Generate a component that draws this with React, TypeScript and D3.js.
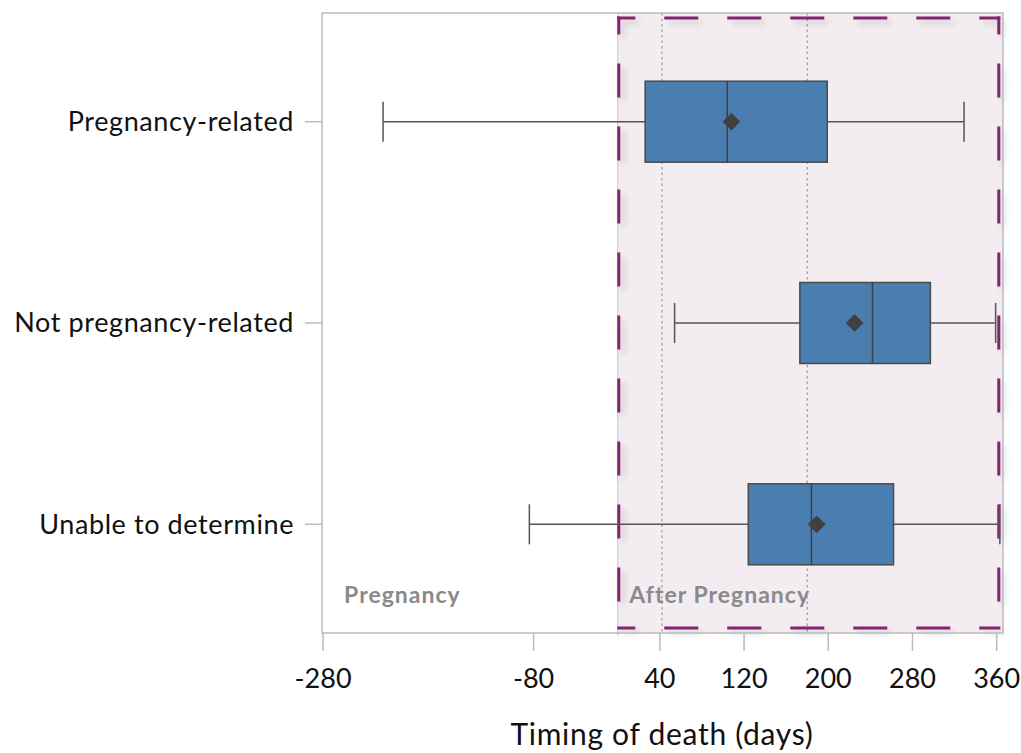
import React from "react";
import * as d3 from "d3";

const categories = ["Pregnancy-related", "Not pregnancy-related", "Unable to determine"];
const whiskerLow = [-223, 54, -84];
const q1 = [26, 173, 124];
const median = [104, 242, 184];
const mean = [108, 225, 189];
const q3 = [199, 297, 262];
const whiskerHigh = [329, 359, 363];
const xTicks = [-280, -80, 40, 120, 200, 280, 360];
const refLines = [42, 180];
const regionLabels = [
  { text: "Pregnancy", value: -260 },
  { text: "After Pregnancy", value: 11 },
];

const W = 1021;
const H = 753;
const plot = { left: 322, right: 1003, top: 13, bottom: 633 };
const FONT = "Lato, 'Open Sans', sans-serif";

export default function App() {
  const x = d3.scaleLinear().domain([-281, 366]).range([plot.left, plot.right]);
  const y = d3
    .scalePoint<string>()
    .domain(categories)
    .range([plot.top, plot.bottom])
    .padding(0.54);

  const boxH = 81;
  const capH = 40;
  const shadeX0 = x(0);

  const d = { x0: shadeX0 + 1, x1: x(362), y0: 18, y1: 628 };
  const sides = [
    [d.x0, d.y0, d.x1, d.y0],
    [d.x0, d.y0, d.x0, d.y1],
    [d.x1, d.y0, d.x1, d.y1],
    [d.x0, d.y1, d.x1, d.y1],
  ];

  return (
    <svg
      width={W}
      height={H}
      style={{ position: "absolute", left: 0, top: 0, display: "block" }}
    >
      <defs>
        <filter id="shadow" x="-20%" y="-20%" width="140%" height="140%">
          <feGaussianBlur in="SourceAlpha" stdDeviation="3" />
          <feOffset dx="4" dy="4" result="b" />
          <feComponentTransfer>
            <feFuncA type="linear" slope="0.18" />
          </feComponentTransfer>
          <feMerge>
            <feMergeNode />
            <feMergeNode in="SourceGraphic" />
          </feMerge>
        </filter>
      </defs>
      <rect width={W} height={H} fill="#ffffff" />

      {/* shaded after-pregnancy region */}
      <rect
        x={shadeX0}
        y={plot.top}
        width={plot.right - shadeX0}
        height={plot.bottom - plot.top}
        fill="#f3ecf1"
      />
      <line
        x1={shadeX0}
        x2={shadeX0}
        y1={plot.top}
        y2={plot.bottom + 3}
        stroke="#c8c8c8"
        strokeWidth={1}
      />

      {/* reference dotted lines */}
      {refLines.map((v) => (
        <line
          key={v}
          x1={x(v)}
          x2={x(v)}
          y1={plot.top}
          y2={plot.bottom}
          stroke="#9a9a9a"
          strokeWidth={1.2}
          strokeDasharray="2.5,3"
        />
      ))}

      {/* dashed purple box */}
      <g filter="url(#shadow)">
        {sides.map((s, i) => (
          <line
            key={i}
            x1={s[0]}
            y1={s[1]}
            x2={s[2]}
            y2={s[3]}
            stroke="#87206f"
            strokeWidth={3}
            strokeDasharray="31,32"
            strokeDashoffset={16}
            strokeLinecap="square"
          />
        ))}
      </g>

      {/* region labels */}
      {regionLabels.map((r) => (
        <text
          key={r.text}
          x={x(r.value)}
          y={603}
          fontFamily={FONT}
          fontWeight={700}
          fontSize={23}
          letterSpacing={1}
          fill="#8a8a8a"
        >
          {r.text}
        </text>
      ))}

      {/* boxes */}
      {categories.map((c, i) => {
        const cy = y(c) as number;
        return (
          <g key={c}>
            <line x1={x(whiskerLow[i])} x2={x(q1[i])} y1={cy} y2={cy} stroke="#555" strokeWidth={1.5} />
            <line x1={x(q3[i])} x2={x(whiskerHigh[i])} y1={cy} y2={cy} stroke="#555" strokeWidth={1.5} />
            <line
              x1={x(whiskerLow[i])}
              x2={x(whiskerLow[i])}
              y1={cy - capH / 2}
              y2={cy + capH / 2}
              stroke="#555"
              strokeWidth={1.5}
            />
            <line
              x1={x(whiskerHigh[i])}
              x2={x(whiskerHigh[i])}
              y1={cy - capH / 2}
              y2={cy + capH / 2}
              stroke="#555"
              strokeWidth={1.5}
            />
            <rect
              x={x(q1[i])}
              y={cy - boxH / 2}
              width={x(q3[i]) - x(q1[i])}
              height={boxH}
              fill="#4a7eb0"
              stroke="#4a4a4a"
              strokeWidth={1.5}
            />
            <line
              x1={x(median[i])}
              x2={x(median[i])}
              y1={cy - boxH / 2}
              y2={cy + boxH / 2}
              stroke="#404040"
              strokeWidth={1.5}
            />
            <path
              d={d3.symbol(d3.symbolDiamond2, 200)() as string}
              transform={`translate(${x(mean[i])},${cy})`}
              fill="#404040"
            />
          </g>
        );
      })}

      {/* frame */}
      <rect
        x={plot.left}
        y={plot.top}
        width={plot.right - plot.left}
        height={plot.bottom - plot.top}
        fill="none"
        stroke="#b8bcbc"
        strokeWidth={1.5}
      />

      {/* y axis */}
      {categories.map((c) => {
        const cy = y(c) as number;
        return (
          <g key={c}>
            <line x1={plot.left - 17} x2={plot.left} y1={cy} y2={cy} stroke="#b8bcbc" strokeWidth={1.5} />
            <text
              x={294}
              y={cy}
              dy="0.35em"
              textAnchor="end"
              fontFamily={FONT}
              fontSize={27}
              letterSpacing={0.6}
              fill="#111"
            >
              {c}
            </text>
          </g>
        );
      })}

      {/* x axis */}
      {xTicks.map((t) => (
        <g key={t}>
          <line x1={x(t)} x2={x(t)} y1={plot.bottom} y2={plot.bottom + 18} stroke="#b8bcbc" strokeWidth={1.5} />
          <text
            x={x(t)}
            y={688}
            textAnchor="middle"
            fontFamily={FONT}
            fontSize={27}
            fill="#111"
          >
            {t}
          </text>
        </g>
      ))}
      <text
        x={662}
        y={745}
        textAnchor="middle"
        fontFamily={FONT}
        fontSize={30}
        letterSpacing={0.7}
        fill="#111"
      >
        Timing of death (days)
      </text>
    </svg>
  );
}
